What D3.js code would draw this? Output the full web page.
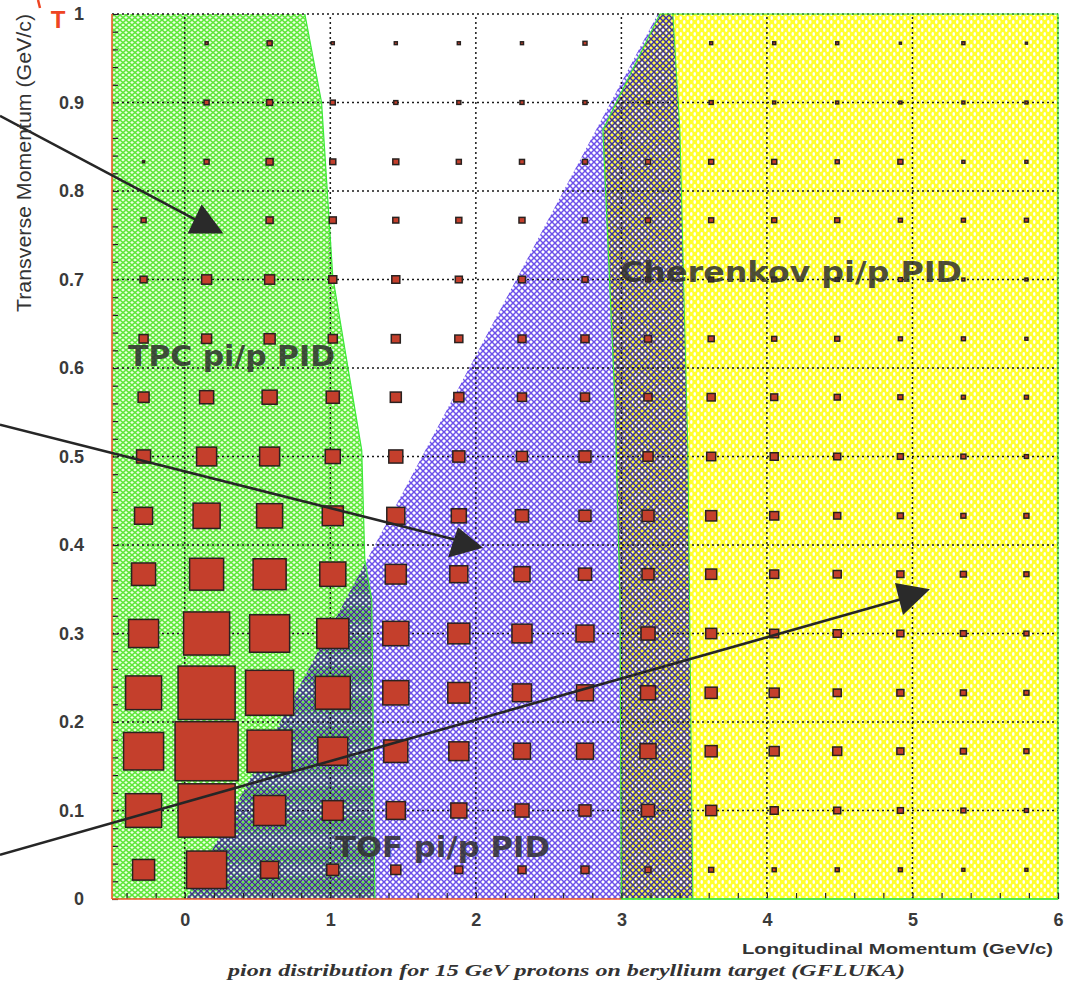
<!DOCTYPE html>
<html>
<head>
<meta charset="utf-8">
<script src="https://cdn.jsdelivr.net/npm/d3@7"></script>
<style>
  body { margin: 0; background: #fff; }
  svg { display: block; }
</style>
</head>
<body>
<div id="chart"></div>
<script>
// bin centres (GeV/c)
var pLCenters = [-0.283, 0.150, 0.583, 1.017, 1.450, 1.883, 2.317, 2.750, 3.183, 3.617, 4.050, 4.483, 4.917, 5.350, 5.783];
var pTCenters = [0.033, 0.100, 0.167, 0.233, 0.300, 0.367, 0.433, 0.500, 0.567, 0.633, 0.700, 0.767, 0.833, 0.900, 0.967];
var binWidthL = 0.4333, binWidthT = 0.0667;

// box contents: one row per pT bin (bottom to top), one value per pL bin
var counts = [
  [22, 40, 18, 12, 10,  8,  8,  8,  6,  5,  4,  4,  4,  3,  3],
  [36, 57, 32, 21, 19, 16, 14, 12, 13, 11,  8,  7,  6,  5,  4],
  [40, 63, 45, 30, 24, 20, 17, 17, 16, 12, 10,  9,  7,  6,  5],
  [36, 57, 48, 35, 26, 22, 19, 17, 15, 12, 10,  8,  7,  6,  5],
  [30, 46, 40, 32, 26, 22, 20, 18, 14, 11,  9,  8,  7,  6,  5],
  [24, 34, 33, 26, 21, 18, 16, 13, 12, 11,  9,  8,  7,  6,  5],
  [18, 27, 26, 21, 18, 15, 13, 12, 12, 11,  9,  7,  6,  5,  5],
  [14, 20, 20, 15, 14, 12, 11, 12, 10,  9,  8,  7,  6,  5,  4],
  [11, 14, 15, 13, 11, 10,  9,  9,  8,  8,  7,  6,  5,  4,  4],
  [ 9, 10, 11,  9,  9,  8,  8,  8,  7,  6,  5,  5,  4,  4,  3],
  [ 7, 10, 10,  8,  8,  7,  7,  6,  5,  5,  5,  4,  4,  3,  3],
  [ 5,  6,  7,  7,  6,  6,  6,  5,  5,  5,  5,  5,  4,  4,  4],
  [ 2,  5,  7,  6,  6,  5,  5,  5,  5,  5,  5,  4,  5,  3,  3],
  [ 0,  5,  6,  5,  4,  4,  4,  4,  3,  4,  3,  3,  3,  3,  3],
  [ 0,  3,  5,  3,  3,  3,  3,  4,  0,  3,  3,  3,  2,  3,  2]
];

var yTicks = [0, 0.1, 0.2, 0.3, 0.4, 0.5, 0.6, 0.7, 0.8, 0.9, 1];
var xTicks = [0, 1, 2, 3, 4, 5, 6];
var yGrid = [0.1, 0.2, 0.3, 0.4, 0.5, 0.6, 0.7, 0.8, 0.9];
var xGrid = [0, 1, 2, 3, 4, 5];

// PID region boundaries, [pL, pT]
var tpcEdge = [[0.825, 1], [0.94, 0.9], [1.017, 0.703], [1.216, 0.507], [1.237, 0.383], [1.285, 0.338], [1.306, 0]];
var tofLeft = [[0.01, 0], [3.25, 1]];
var tofRight = [[3.354, 1], [3.402, 0.869], [3.436, 0.643], [3.457, 0.507], [3.491, 0]];
var cherLeft = [[3.0, 0], [2.99, 0.34], [2.955, 0.565], [2.873, 0.869], [3.265, 1]];

// annotation arrows: line start, line end, head triangle
var arrows = [
  { from: [-1.27, 0.885], to: [0.08, 0.767], head: [[0.116, 0.785], [0.265, 0.752], [0.02, 0.752]] },
  { from: [-1.27, 0.536], to: [1.86, 0.406], head: [[1.877, 0.42], [2.049, 0.397], [1.809, 0.386]] },
  { from: [-1.27, 0.05], to: [4.95, 0.340], head: [[4.88, 0.357], [5.12, 0.35], [4.935, 0.321]] }
];

var regionLabels = [
  { text: "TPC pi/p PID", pL: -0.39, pT: 0.602, len: 207 },
  { text: "TOF pi/p PID", pL: 1.032, pT: 0.047, len: 215 },
  { text: "Cherenkov pi/p PID", pL: 2.99, pT: 0.697, len: 342 }
];

var svg = d3.select("#chart").append("svg")
  .attr("width", 1070)
  .attr("height", 984);

var x = d3.scaleLinear().domain([-0.5, 6]).range([112, 1058]);
var y = d3.scaleLinear().domain([0, 1]).range([899, 14]);

// hatch patterns
var defs = svg.append("defs");
function hatch(id, w, h, bg, color, sw) {
  var p = defs.append("pattern")
    .attr("id", id)
    .attr("patternUnits", "userSpaceOnUse")
    .attr("width", w)
    .attr("height", h);
  if (bg) p.append("rect").attr("width", w).attr("height", h).attr("fill", bg);
  p.append("path")
    .attr("d", "M0,0L" + w + "," + h + "M" + w + ",0L0," + h)
    .attr("stroke", color)
    .attr("stroke-width", sw)
    .attr("fill", "none");
}
hatch("green", 6, 5, "#eeffe6", "#5ee83a", 1.5);
hatch("purple", 6, 6, null, "#6c50ea", 1.5);
hatch("dark", 6, 6, null, "#3e3a78", 1.1);

var yp = defs.append("pattern")
  .attr("id", "yellow")
  .attr("patternUnits", "userSpaceOnUse")
  .attr("width", 7).attr("height", 8);
yp.append("rect").attr("width", 7).attr("height", 8).attr("fill", "#ffff2e");
yp.append("ellipse").attr("cx", 1.75).attr("cy", 2).attr("rx", 1.3).attr("ry", 2).attr("fill", "#fff");
yp.append("ellipse").attr("cx", 5.25).attr("cy", 6).attr("rx", 1.3).attr("ry", 2).attr("fill", "#fff");

var line = d3.line().x(function(d) { return x(d[0]); }).y(function(d) { return y(d[1]); });

var tpcPoly = [[-0.5, 0], [-0.5, 1]].concat(tpcEdge);
var tofPoly = tofLeft.concat(tofRight);
var cherPoly = cherLeft.concat([[6, 1], [6, 0]]);

defs.append("clipPath").attr("id", "clipTpc")
  .append("path").attr("d", line(tpcPoly) + "Z");
defs.append("clipPath").attr("id", "clipCher")
  .append("path").attr("d", line(cherPoly) + "Z");

// regions
svg.append("path").attr("d", line(tpcPoly) + "Z").attr("fill", "url(#green)");
svg.append("path").attr("d", line(cherPoly) + "Z").attr("fill", "url(#yellow)");
svg.append("path").attr("d", line(tofPoly) + "Z").attr("fill", "url(#purple)");
svg.append("path").attr("d", line(tofPoly) + "Z").attr("fill", "url(#dark)").attr("clip-path", "url(#clipTpc)");
svg.append("path").attr("d", line(tofPoly) + "Z").attr("fill", "url(#dark)").attr("clip-path", "url(#clipCher)");

// grid
var grid = svg.append("g")
  .attr("stroke", "#1a1a1a")
  .attr("stroke-width", 1.5)
  .attr("stroke-dasharray", "2,3");
grid.selectAll("line.h")
  .data(yGrid.concat([1]))
  .enter().append("line")
    .attr("x1", x(-0.5)).attr("x2", x(6))
    .attr("y1", function(d) { return y(d); })
    .attr("y2", function(d) { return y(d); });
grid.selectAll("line.v")
  .data(xGrid.concat([6]))
  .enter().append("line")
    .attr("x1", function(d) { return x(d); })
    .attr("x2", function(d) { return x(d); })
    .attr("y1", y(0)).attr("y2", y(1));

// region outlines
svg.append("path").attr("d", line(tpcEdge)).attr("fill", "none").attr("stroke", "#3ee83a").attr("stroke-width", 1.2);
svg.append("path").attr("d", line(cherPoly) + "Z").attr("fill", "none").attr("stroke", "#3ee83a").attr("stroke-width", 1.2);
svg.append("path").attr("d", line(tofRight)).attr("fill", "none").attr("stroke", "#3ee83a").attr("stroke-width", 1);

// axes
var minorY = d3.range(0, 51).map(function(i) { return i / 50; });
var minorX = d3.range(-2, 31).map(function(i) { return i / 5; });

svg.append("g")
  .attr("transform", "translate(" + x(-0.5) + ",0)")
  .call(d3.axisLeft(y).tickValues(minorY).tickSize(-6).tickFormat(""))
  .call(function(g) { g.selectAll("line").attr("stroke", "#222").attr("stroke-width", 1.2); g.select(".domain").remove(); });
svg.append("g")
  .attr("transform", "translate(0," + y(0) + ")")
  .call(d3.axisBottom(x).tickValues(minorX).tickSize(-6).tickFormat(""))
  .call(function(g) { g.selectAll("line").attr("stroke", "#222").attr("stroke-width", 1.2); g.select(".domain").remove(); });

var yAxis = svg.append("g")
  .attr("transform", "translate(" + x(-0.5) + ",0)")
  .call(d3.axisLeft(y).tickValues(yTicks).tickSize(0).tickPadding(28).tickFormat(d3.format("")));
yAxis.select(".domain").remove();
var xAxis = svg.append("g")
  .attr("transform", "translate(0," + y(0) + ")")
  .call(d3.axisBottom(x).tickValues(xTicks).tickSize(0).tickPadding(14).tickFormat(d3.format("d")));
xAxis.select(".domain").remove();
svg.selectAll(".tick text")
  .attr("font-family", "Liberation Sans, Arial, sans-serif")
  .attr("font-weight", "bold")
  .attr("font-size", 18)
  .attr("fill", "#3a3a3a");

svg.append("line")
  .attr("x1", x(-0.5)).attr("x2", x(-0.5)).attr("y1", y(0)).attr("y2", y(1))
  .attr("stroke", "#ee5a2a").attr("stroke-width", 1.6);
svg.append("line")
  .attr("x1", x(-0.5)).attr("x2", x(3)).attr("y1", y(0)).attr("y2", y(0))
  .attr("stroke", "#ee5a2a").attr("stroke-width", 1.6);
svg.append("line")
  .attr("x1", x(3)).attr("x2", x(6)).attr("y1", y(0)).attr("y2", y(0))
  .attr("stroke", "#3ee83a").attr("stroke-width", 1.6);

// boxes
var maxCount = d3.max(counts, function(r) { return d3.max(r); });
var cellW = x(binWidthL) - x(0);
var cellH = y(0) - y(binWidthT);
var cells = [];
counts.forEach(function(row, j) {
  row.forEach(function(v, i) {
    if (v > 0) cells.push({ pL: pLCenters[i], pT: pTCenters[j], v: v });
  });
});
svg.append("g").selectAll("rect")
  .data(cells)
  .enter().append("rect")
    .attr("x", function(d) { return x(d.pL) - cellW * d.v / maxCount / 2; })
    .attr("y", function(d) { return y(d.pT) - cellH * d.v / maxCount / 2; })
    .attr("width", function(d) { return cellW * d.v / maxCount; })
    .attr("height", function(d) { return cellH * d.v / maxCount; })
    .attr("fill", "#c43f2c")
    .attr("stroke", "#2a2220")
    .attr("stroke-width", 1.5);

// region labels
svg.append("g").selectAll("text")
  .data(regionLabels)
  .enter().append("text")
    .attr("x", function(d) { return x(d.pL); })
    .attr("y", function(d) { return y(d.pT); })
    .attr("textLength", function(d) { return d.len; })
    .attr("lengthAdjust", "spacingAndGlyphs")
    .attr("font-family", "DejaVu Sans, sans-serif")
    .attr("font-weight", "bold")
    .attr("font-size", 28)
    .attr("fill", "#2e2e2e")
    .attr("fill-opacity", 0.85)
    .text(function(d) { return d.text; });

// arrows
var ag = svg.append("g");
arrows.forEach(function(a) {
  ag.append("line")
    .attr("x1", x(a.from[0])).attr("y1", y(a.from[1]))
    .attr("x2", x(a.to[0])).attr("y2", y(a.to[1]))
    .attr("stroke", "#262626").attr("stroke-width", 2.6);
  ag.append("path")
    .attr("d", line(a.head) + "Z")
    .attr("fill", "#2a2a2a");
});

// titles
svg.append("text")
  .attr("transform", "translate(31," + y(1) + ") rotate(-90)")
  .attr("text-anchor", "end")
  .attr("textLength", 298)
  .attr("lengthAdjust", "spacingAndGlyphs")
  .attr("font-family", "Liberation Sans, Arial, sans-serif")
  .attr("font-size", 21)
  .attr("fill", "#333")
  .text("Transverse Momentum (GeV/c)");

svg.append("text")
  .attr("x", 742).attr("y", 954)
  .attr("textLength", 311)
  .attr("lengthAdjust", "spacingAndGlyphs")
  .attr("font-family", "Liberation Sans, Arial, sans-serif")
  .attr("font-weight", "bold")
  .attr("font-size", 14)
  .attr("fill", "#333")
  .text("Longitudinal Momentum (GeV/c)");

svg.append("text")
  .attr("x", 228).attr("y", 976)
  .attr("textLength", 677)
  .attr("lengthAdjust", "spacingAndGlyphs")
  .attr("font-family", "Liberation Serif, serif")
  .attr("font-weight", "bold")
  .attr("font-style", "italic")
  .attr("font-size", 17)
  .attr("fill", "#333")
  .text("pion distribution for 15 GeV protons on beryllium target (GFLUKA)");

// hand-written p_T mark
svg.append("text")
  .attr("x", 58).attr("y", 28)
  .attr("text-anchor", "middle")
  .attr("font-family", "Liberation Sans, Arial, sans-serif")
  .attr("font-weight", "bold")
  .attr("font-size", 24)
  .attr("fill", "#ee4422")
  .text("T");
svg.append("line")
  .attr("x1", 38).attr("y1", 0).attr("x2", 40).attr("y2", 8)
  .attr("stroke", "#ee4422").attr("stroke-width", 2.5);
</script>
</body>
</html>
